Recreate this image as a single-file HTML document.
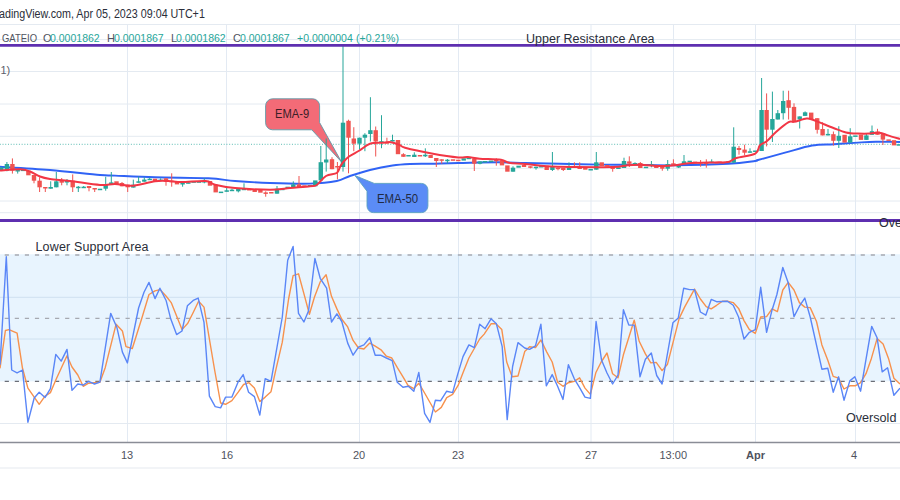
<!DOCTYPE html>
<html><head><meta charset="utf-8"><style>
html,body{margin:0;padding:0;background:#fff;width:900px;height:500px;overflow:hidden}
.t{position:absolute;white-space:nowrap;font-family:"Liberation Sans",sans-serif;line-height:1}
.v{top:32.9px;font-size:11px;color:#26a69a;transform:scaleX(0.955);transform-origin:0 0}
.x{top:450px;font-size:11px;color:#50535e}
</style></head><body>
<svg width="900" height="500" style="position:absolute;left:0;top:0">
<line x1="127.5" y1="24" x2="127.5" y2="442" stroke="#e3eaf3" stroke-width="1"/><line x1="226.5" y1="24" x2="226.5" y2="442" stroke="#e3eaf3" stroke-width="1"/><line x1="359.5" y1="24" x2="359.5" y2="442" stroke="#e3eaf3" stroke-width="1"/><line x1="458.5" y1="24" x2="458.5" y2="442" stroke="#e3eaf3" stroke-width="1"/><line x1="591" y1="24" x2="591" y2="442" stroke="#e3eaf3" stroke-width="1"/><line x1="673.5" y1="24" x2="673.5" y2="442" stroke="#e3eaf3" stroke-width="1"/><line x1="755.5" y1="24" x2="755.5" y2="442" stroke="#e3eaf3" stroke-width="1"/><line x1="855.5" y1="24" x2="855.5" y2="442" stroke="#e3eaf3" stroke-width="1"/><line x1="0" y1="24.5" x2="900" y2="24.5" stroke="#e4eaf1" stroke-width="1"/><line x1="0" y1="39.6" x2="900" y2="39.6" stroke="#e4eaf1" stroke-width="1"/><line x1="0" y1="71.5" x2="900" y2="71.5" stroke="#e4eaf1" stroke-width="1"/><line x1="0" y1="104" x2="900" y2="104" stroke="#e4eaf1" stroke-width="1"/><line x1="0" y1="136.3" x2="900" y2="136.3" stroke="#e4eaf1" stroke-width="1"/><line x1="0" y1="168.3" x2="900" y2="168.3" stroke="#e4eaf1" stroke-width="1"/><line x1="0" y1="201" x2="900" y2="201" stroke="#e4eaf1" stroke-width="1"/><line x1="0" y1="212.7" x2="900" y2="212.7" stroke="#e4eaf1" stroke-width="1"/><line x1="0" y1="297.3" x2="900" y2="297.3" stroke="#e4eaf1" stroke-width="1"/><line x1="0" y1="339" x2="900" y2="339" stroke="#e4eaf1" stroke-width="1"/><line x1="0" y1="423.5" x2="900" y2="423.5" stroke="#e4eaf1" stroke-width="1"/>
<rect x="0" y="254.2" width="900" height="127.2" fill="#2196f3" fill-opacity="0.1"/>
<line x1="0" y1="442.5" x2="900" y2="442.5" stroke="#8a8d96" stroke-width="1.6"/>
<line x1="0" y1="468" x2="900" y2="468" stroke="#eef1f5" stroke-width="1.5"/>
<line x1="0" y1="144.3" x2="900" y2="144.3" stroke="#26a69a" stroke-opacity="0.75" stroke-width="1" stroke-dasharray="1 1.7305" stroke-dashoffset="0.2"/>
<path d="M0,166.8 C8.3,167.3 33.3,168.6 50,170 C66.7,171.4 89.2,174.1 100,175 C110.8,175.9 105.8,175.2 115,175.6 C124.2,176.0 139.4,176.9 155,177.3 C170.6,177.8 195.0,177.7 208.3,178.3 C221.6,178.9 224.7,180.2 235,181 C245.3,181.8 257.5,182.6 270,183 C282.5,183.4 298.9,183.9 310,183.6 C321.1,183.3 330.0,182.3 336.7,181 C343.4,179.7 344.4,177.8 350,176 C355.6,174.2 362.9,171.8 370,170 C377.1,168.2 385.8,166.5 392.5,165.5 C399.2,164.5 403.5,164.3 410,164 C416.5,163.7 423.6,163.9 431.7,163.7 C439.8,163.5 447.2,163.2 458.3,163 C469.4,162.8 487.2,162.3 498.3,162.3 C509.4,162.3 514.7,162.8 525,163 C535.3,163.2 547.5,163.4 560,163.7 C572.5,164.0 587.5,164.4 600,164.6 C612.5,164.8 622.5,164.6 635,164.7 C647.5,164.8 659.5,165.5 675,165.3 C690.5,165.1 715.0,164.4 728.3,163.7 C741.6,163.0 750.0,161.6 755,161 C760.0,160.4 753.0,161.4 758,160 C763.0,158.6 776.0,155.1 785,152.7 C794.0,150.3 803.8,146.9 812,145.5 C820.2,144.1 826.3,144.7 834,144.2 C841.7,143.7 851.0,143.0 858,142.6 C865.0,142.2 869.0,141.9 876,141.8 C883.0,141.7 896.0,142.0 900,142" fill="none" stroke="#3063f5" stroke-width="1.9" stroke-linejoin="round"/>
<path d="M272.4,98.8 H312.8 A7,7 0 0 1 319.6,105.8 V122.6 L341.4,161.8 L311.8,129.8 H272.4 A7,7 0 0 1 265.6,122.8 V105.8 A7,7 0 0 1 272.4,98.8 Z" fill="#f36b77" stroke="#5f9aa8" stroke-width="0.9"/>
<path d="M355,175.6 L374.2,183.4 H421.4 A6.5,6.5 0 0 1 427.9,189.9 V206.1 A6.5,6.5 0 0 1 421.4,212.6 H373.5 A6.5,6.5 0 0 1 367,206.1 V191.2 Z" fill="#5b8cf6" stroke="#5aa0c0" stroke-width="0.9"/>
<rect x="-0.9" y="167.3" width="4.4" height="2.7" fill="#26a69a"/>
<rect x="6.4" y="162.0" width="1" height="9.3" fill="#26a69a"/>
<rect x="4.7" y="164.0" width="4.4" height="6.7" fill="#26a69a"/>
<rect x="11.9" y="158.4" width="1" height="15.2" fill="#ef5350"/>
<rect x="10.2" y="164.0" width="4.4" height="6.7" fill="#ef5350"/>
<rect x="17.2" y="170.0" width="1" height="3.6" fill="#26a69a"/>
<rect x="15.5" y="170.0" width="4.4" height="1.5" fill="#26a69a"/>
<rect x="20.8" y="169.6" width="4.4" height="1.5" fill="#26a69a"/>
<rect x="26.2" y="170.7" width="4.4" height="4.6" fill="#ef5350"/>
<rect x="33.5" y="175.0" width="1" height="8.3" fill="#ef5350"/>
<rect x="31.8" y="175.0" width="4.4" height="5.7" fill="#ef5350"/>
<rect x="39.1" y="177.3" width="1" height="14.7" fill="#ef5350"/>
<rect x="37.4" y="180.7" width="4.4" height="6.6" fill="#ef5350"/>
<rect x="44.8" y="187.0" width="1" height="5.0" fill="#ef5350"/>
<rect x="43.1" y="187.0" width="4.4" height="1.5" fill="#ef5350"/>
<rect x="50.2" y="181.3" width="1" height="7.4" fill="#26a69a"/>
<rect x="48.5" y="187.0" width="4.4" height="1.7" fill="#26a69a"/>
<rect x="55.8" y="172.0" width="1" height="15.3" fill="#26a69a"/>
<rect x="54.1" y="181.3" width="4.4" height="6.0" fill="#26a69a"/>
<rect x="61.2" y="178.0" width="1" height="7.3" fill="#ef5350"/>
<rect x="59.5" y="180.0" width="4.4" height="2.7" fill="#ef5350"/>
<rect x="66.5" y="179.0" width="1" height="6.3" fill="#26a69a"/>
<rect x="64.8" y="181.0" width="4.4" height="1.5" fill="#26a69a"/>
<rect x="72.2" y="174.4" width="1" height="17.6" fill="#ef5350"/>
<rect x="70.5" y="180.7" width="4.4" height="6.6" fill="#ef5350"/>
<rect x="77.8" y="186.0" width="1" height="6.0" fill="#26a69a"/>
<rect x="76.1" y="186.7" width="4.4" height="1.5" fill="#26a69a"/>
<rect x="83.2" y="186.0" width="1" height="1.3" fill="#26a69a"/>
<rect x="81.5" y="186.7" width="4.4" height="1.5" fill="#26a69a"/>
<rect x="88.5" y="186.0" width="1" height="5.3" fill="#ef5350"/>
<rect x="86.8" y="186.0" width="4.4" height="2.0" fill="#ef5350"/>
<rect x="94.2" y="188.0" width="1" height="4.0" fill="#ef5350"/>
<rect x="92.5" y="188.0" width="4.4" height="1.5" fill="#ef5350"/>
<rect x="97.8" y="188.7" width="4.4" height="1.5" fill="#26a69a"/>
<rect x="105.2" y="176.7" width="1" height="14.0" fill="#26a69a"/>
<rect x="103.5" y="184.0" width="4.4" height="4.7" fill="#26a69a"/>
<rect x="110.8" y="172.0" width="1" height="12.0" fill="#26a69a"/>
<rect x="109.1" y="182.4" width="4.4" height="1.6" fill="#26a69a"/>
<rect x="114.3" y="181.3" width="4.4" height="3.2" fill="#ef5350"/>
<rect x="121.5" y="182.0" width="1" height="4.3" fill="#ef5350"/>
<rect x="119.8" y="183.0" width="4.4" height="3.3" fill="#ef5350"/>
<rect x="127.2" y="184.7" width="1" height="7.3" fill="#ef5350"/>
<rect x="125.5" y="184.7" width="4.4" height="2.6" fill="#ef5350"/>
<rect x="132.8" y="179.6" width="1" height="8.0" fill="#26a69a"/>
<rect x="131.1" y="184.7" width="4.4" height="2.9" fill="#26a69a"/>
<rect x="138.1" y="176.7" width="1" height="6.0" fill="#26a69a"/>
<rect x="136.4" y="181.3" width="4.4" height="1.5" fill="#26a69a"/>
<rect x="143.8" y="177.3" width="1" height="4.4" fill="#26a69a"/>
<rect x="142.1" y="179.6" width="4.4" height="2.1" fill="#26a69a"/>
<rect x="149.2" y="177.7" width="1" height="1.9" fill="#26a69a"/>
<rect x="147.5" y="178.7" width="4.4" height="1.5" fill="#26a69a"/>
<rect x="152.8" y="178.7" width="4.4" height="2.6" fill="#ef5350"/>
<rect x="160.1" y="178.3" width="1" height="2.4" fill="#26a69a"/>
<rect x="158.4" y="179.6" width="4.4" height="1.5" fill="#26a69a"/>
<rect x="165.5" y="178.3" width="1" height="7.4" fill="#ef5350"/>
<rect x="163.8" y="178.3" width="4.4" height="3.0" fill="#ef5350"/>
<rect x="171.2" y="173.3" width="1" height="13.4" fill="#ef5350"/>
<rect x="169.5" y="180.7" width="4.4" height="1.5" fill="#ef5350"/>
<rect x="174.8" y="181.3" width="4.4" height="3.1" fill="#ef5350"/>
<rect x="182.1" y="183.0" width="1" height="3.7" fill="#26a69a"/>
<rect x="180.4" y="183.0" width="4.4" height="1.5" fill="#26a69a"/>
<rect x="187.8" y="181.0" width="1" height="2.3" fill="#26a69a"/>
<rect x="186.1" y="182.3" width="4.4" height="1.5" fill="#26a69a"/>
<rect x="191.5" y="181.3" width="4.4" height="1.5" fill="#26a69a"/>
<rect x="196.8" y="181.3" width="4.4" height="1.5" fill="#26a69a"/>
<rect x="203.8" y="178.3" width="1" height="5.0" fill="#26a69a"/>
<rect x="202.1" y="181.0" width="4.4" height="1.5" fill="#26a69a"/>
<rect x="207.8" y="181.0" width="4.4" height="4.7" fill="#ef5350"/>
<rect x="213.5" y="184.7" width="4.4" height="7.7" fill="#ef5350"/>
<rect x="218.8" y="191.6" width="4.4" height="1.5" fill="#26a69a"/>
<rect x="226.2" y="188.0" width="1" height="3.6" fill="#26a69a"/>
<rect x="224.5" y="190.3" width="4.4" height="1.5" fill="#26a69a"/>
<rect x="231.5" y="188.7" width="1" height="2.0" fill="#26a69a"/>
<rect x="229.8" y="189.7" width="4.4" height="1.5" fill="#26a69a"/>
<rect x="237.8" y="189.0" width="1" height="3.4" fill="#26a69a"/>
<rect x="236.1" y="189.0" width="4.4" height="2.3" fill="#26a69a"/>
<rect x="243.5" y="183.3" width="1" height="6.7" fill="#26a69a"/>
<rect x="241.8" y="188.7" width="4.4" height="1.5" fill="#26a69a"/>
<rect x="247.1" y="189.0" width="4.4" height="1.5" fill="#ef5350"/>
<rect x="252.5" y="190.0" width="4.4" height="2.0" fill="#ef5350"/>
<rect x="258.2" y="190.0" width="4.4" height="2.7" fill="#ef5350"/>
<rect x="265.2" y="191.3" width="1" height="5.4" fill="#ef5350"/>
<rect x="263.5" y="192.4" width="4.4" height="1.5" fill="#ef5350"/>
<rect x="269.1" y="192.0" width="4.4" height="1.5" fill="#ef5350"/>
<rect x="276.5" y="186.0" width="1" height="7.7" fill="#26a69a"/>
<rect x="274.8" y="188.7" width="4.4" height="5.0" fill="#26a69a"/>
<rect x="281.8" y="188.0" width="1" height="1.2" fill="#26a69a"/>
<rect x="280.1" y="188.7" width="4.4" height="1.5" fill="#26a69a"/>
<rect x="285.5" y="186.7" width="4.4" height="1.5" fill="#26a69a"/>
<rect x="292.8" y="181.3" width="1" height="5.7" fill="#26a69a"/>
<rect x="291.1" y="184.4" width="4.4" height="2.6" fill="#26a69a"/>
<rect x="298.5" y="176.0" width="1" height="11.0" fill="#ef5350"/>
<rect x="296.8" y="184.4" width="4.4" height="2.6" fill="#ef5350"/>
<rect x="302.2" y="185.3" width="4.4" height="1.5" fill="#ef5350"/>
<rect x="307.8" y="185.0" width="4.4" height="1.5" fill="#26a69a"/>
<rect x="313.1" y="180.4" width="4.4" height="5.9" fill="#26a69a"/>
<rect x="320.3" y="146.0" width="1" height="34.4" fill="#26a69a"/>
<rect x="318.6" y="162.2" width="4.4" height="18.2" fill="#26a69a"/>
<rect x="325.7" y="138.5" width="1" height="33.1" fill="#26a69a"/>
<rect x="324.0" y="159.5" width="4.4" height="3.0" fill="#26a69a"/>
<rect x="331.5" y="157.2" width="1" height="12.0" fill="#ef5350"/>
<rect x="329.8" y="159.2" width="4.4" height="10.0" fill="#ef5350"/>
<rect x="336.9" y="162.0" width="1" height="17.3" fill="#ef5350"/>
<rect x="335.2" y="166.0" width="4.4" height="1.5" fill="#ef5350"/>
<rect x="342.5" y="45.0" width="1" height="126.6" fill="#26a69a"/>
<rect x="340.8" y="122.7" width="4.4" height="44.3" fill="#26a69a"/>
<rect x="348.0" y="119.7" width="1" height="53.6" fill="#ef5350"/>
<rect x="346.3" y="120.8" width="4.4" height="16.9" fill="#ef5350"/>
<rect x="353.3" y="127.2" width="1" height="24.0" fill="#ef5350"/>
<rect x="351.6" y="138.5" width="4.4" height="5.2" fill="#ef5350"/>
<rect x="359.0" y="137.7" width="1" height="12.0" fill="#26a69a"/>
<rect x="357.3" y="137.7" width="4.4" height="6.0" fill="#26a69a"/>
<rect x="364.4" y="133.2" width="1" height="18.0" fill="#26a69a"/>
<rect x="362.7" y="134.7" width="4.4" height="3.0" fill="#26a69a"/>
<rect x="369.9" y="97.2" width="1" height="44.3" fill="#26a69a"/>
<rect x="368.2" y="130.2" width="4.4" height="3.8" fill="#26a69a"/>
<rect x="375.2" y="126.5" width="1" height="30.0" fill="#ef5350"/>
<rect x="373.5" y="130.2" width="4.4" height="11.3" fill="#ef5350"/>
<rect x="381.0" y="115.2" width="1" height="33.0" fill="#26a69a"/>
<rect x="379.3" y="141.2" width="4.4" height="1.5" fill="#26a69a"/>
<rect x="386.4" y="137.7" width="1" height="5.3" fill="#ef5350"/>
<rect x="384.7" y="142.2" width="4.4" height="1.5" fill="#ef5350"/>
<rect x="392.0" y="134.7" width="1" height="6.8" fill="#26a69a"/>
<rect x="390.3" y="140.0" width="4.4" height="1.5" fill="#26a69a"/>
<rect x="395.8" y="140.0" width="4.4" height="14.2" fill="#ef5350"/>
<rect x="402.9" y="153.2" width="1" height="3.6" fill="#ef5350"/>
<rect x="401.2" y="154.2" width="4.4" height="2.6" fill="#ef5350"/>
<rect x="406.3" y="155.0" width="4.4" height="1.5" fill="#26a69a"/>
<rect x="413.8" y="152.3" width="1" height="4.7" fill="#26a69a"/>
<rect x="412.1" y="154.7" width="4.4" height="2.3" fill="#26a69a"/>
<rect x="417.8" y="155.0" width="4.4" height="1.5" fill="#ef5350"/>
<rect x="424.8" y="148.3" width="1" height="8.7" fill="#26a69a"/>
<rect x="423.1" y="154.7" width="4.4" height="1.6" fill="#26a69a"/>
<rect x="428.4" y="155.0" width="4.4" height="3.0" fill="#ef5350"/>
<rect x="435.8" y="158.0" width="1" height="9.0" fill="#ef5350"/>
<rect x="434.1" y="158.0" width="4.4" height="3.0" fill="#ef5350"/>
<rect x="441.2" y="159.3" width="1" height="4.4" fill="#ef5350"/>
<rect x="439.5" y="159.3" width="4.4" height="1.5" fill="#ef5350"/>
<rect x="446.9" y="159.0" width="1" height="4.3" fill="#26a69a"/>
<rect x="445.2" y="159.7" width="4.4" height="1.5" fill="#26a69a"/>
<rect x="450.8" y="159.3" width="4.4" height="1.5" fill="#ef5350"/>
<rect x="456.1" y="159.7" width="4.4" height="1.5" fill="#ef5350"/>
<rect x="461.5" y="158.3" width="4.4" height="2.3" fill="#26a69a"/>
<rect x="466.5" y="157.7" width="4.4" height="1.5" fill="#26a69a"/>
<rect x="473.8" y="158.7" width="1" height="12.3" fill="#ef5350"/>
<rect x="472.1" y="158.7" width="4.4" height="5.0" fill="#ef5350"/>
<rect x="479.5" y="161.4" width="1" height="2.9" fill="#26a69a"/>
<rect x="477.8" y="161.4" width="4.4" height="2.3" fill="#26a69a"/>
<rect x="482.8" y="161.0" width="4.4" height="1.5" fill="#26a69a"/>
<rect x="488.8" y="160.6" width="4.4" height="1.5" fill="#26a69a"/>
<rect x="495.8" y="158.3" width="1" height="7.4" fill="#ef5350"/>
<rect x="494.1" y="159.7" width="4.4" height="1.5" fill="#ef5350"/>
<rect x="499.8" y="160.3" width="4.4" height="5.1" fill="#ef5350"/>
<rect x="505.2" y="165.4" width="4.4" height="6.3" fill="#ef5350"/>
<rect x="512.5" y="166.3" width="1" height="5.4" fill="#26a69a"/>
<rect x="510.8" y="167.7" width="4.4" height="4.0" fill="#26a69a"/>
<rect x="516.4" y="165.7" width="4.4" height="2.0" fill="#26a69a"/>
<rect x="521.8" y="165.0" width="4.4" height="2.0" fill="#ef5350"/>
<rect x="529.9" y="166.3" width="1" height="2.0" fill="#ef5350"/>
<rect x="528.2" y="166.3" width="4.4" height="1.5" fill="#ef5350"/>
<rect x="535.5" y="166.7" width="1" height="3.0" fill="#26a69a"/>
<rect x="533.8" y="166.7" width="4.4" height="1.5" fill="#26a69a"/>
<rect x="539.1" y="166.0" width="4.4" height="1.5" fill="#26a69a"/>
<rect x="544.5" y="165.7" width="4.4" height="4.3" fill="#ef5350"/>
<rect x="551.9" y="152.0" width="1" height="19.0" fill="#26a69a"/>
<rect x="550.2" y="167.0" width="4.4" height="3.0" fill="#26a69a"/>
<rect x="557.5" y="167.7" width="1" height="2.6" fill="#ef5350"/>
<rect x="555.8" y="167.7" width="4.4" height="1.5" fill="#ef5350"/>
<rect x="562.8" y="168.0" width="1" height="3.0" fill="#ef5350"/>
<rect x="561.1" y="168.0" width="4.4" height="2.0" fill="#ef5350"/>
<rect x="568.5" y="162.3" width="1" height="7.7" fill="#26a69a"/>
<rect x="566.8" y="167.0" width="4.4" height="3.0" fill="#26a69a"/>
<rect x="573.9" y="162.3" width="1" height="5.0" fill="#ef5350"/>
<rect x="572.2" y="166.3" width="4.4" height="1.5" fill="#ef5350"/>
<rect x="579.2" y="162.3" width="1" height="6.7" fill="#ef5350"/>
<rect x="577.5" y="166.7" width="4.4" height="2.3" fill="#ef5350"/>
<rect x="583.1" y="167.7" width="4.4" height="2.0" fill="#ef5350"/>
<rect x="588.5" y="169.0" width="4.4" height="1.5" fill="#26a69a"/>
<rect x="595.8" y="152.0" width="1" height="17.7" fill="#26a69a"/>
<rect x="594.1" y="162.3" width="4.4" height="7.4" fill="#26a69a"/>
<rect x="599.5" y="162.3" width="4.4" height="3.7" fill="#ef5350"/>
<rect x="605.1" y="165.0" width="4.4" height="1.5" fill="#ef5350"/>
<rect x="612.2" y="166.3" width="1" height="5.4" fill="#ef5350"/>
<rect x="610.5" y="166.3" width="4.4" height="2.7" fill="#ef5350"/>
<rect x="616.2" y="167.3" width="4.4" height="1.7" fill="#26a69a"/>
<rect x="623.5" y="157.7" width="1" height="10.3" fill="#26a69a"/>
<rect x="621.8" y="161.0" width="4.4" height="7.0" fill="#26a69a"/>
<rect x="628.8" y="156.3" width="1" height="10.7" fill="#ef5350"/>
<rect x="627.1" y="161.4" width="4.4" height="2.3" fill="#ef5350"/>
<rect x="634.5" y="162.3" width="1" height="1.7" fill="#26a69a"/>
<rect x="632.8" y="163.0" width="4.4" height="1.5" fill="#26a69a"/>
<rect x="639.8" y="162.0" width="1" height="6.0" fill="#ef5350"/>
<rect x="638.1" y="163.0" width="4.4" height="5.0" fill="#ef5350"/>
<rect x="643.8" y="166.7" width="4.4" height="1.5" fill="#26a69a"/>
<rect x="650.9" y="161.0" width="1" height="6.3" fill="#26a69a"/>
<rect x="649.2" y="164.3" width="4.4" height="1.5" fill="#26a69a"/>
<rect x="654.1" y="165.3" width="4.4" height="2.7" fill="#ef5350"/>
<rect x="661.8" y="166.7" width="1" height="4.0" fill="#ef5350"/>
<rect x="660.1" y="166.7" width="4.4" height="2.0" fill="#ef5350"/>
<rect x="667.2" y="160.0" width="1" height="10.7" fill="#26a69a"/>
<rect x="665.5" y="164.0" width="4.4" height="4.7" fill="#26a69a"/>
<rect x="672.9" y="159.3" width="1" height="5.4" fill="#ef5350"/>
<rect x="671.2" y="163.3" width="4.4" height="1.5" fill="#ef5350"/>
<rect x="678.2" y="166.0" width="1" height="2.0" fill="#26a69a"/>
<rect x="676.5" y="166.0" width="4.4" height="1.5" fill="#26a69a"/>
<rect x="683.5" y="155.0" width="1" height="9.0" fill="#26a69a"/>
<rect x="681.8" y="161.3" width="4.4" height="2.7" fill="#26a69a"/>
<rect x="687.5" y="160.7" width="4.4" height="1.5" fill="#26a69a"/>
<rect x="692.8" y="161.6" width="4.4" height="1.5" fill="#ef5350"/>
<rect x="700.1" y="160.0" width="1" height="6.7" fill="#ef5350"/>
<rect x="698.4" y="162.0" width="4.4" height="1.5" fill="#ef5350"/>
<rect x="705.8" y="159.3" width="1" height="8.4" fill="#ef5350"/>
<rect x="704.1" y="162.4" width="4.4" height="1.5" fill="#ef5350"/>
<rect x="711.2" y="159.3" width="1" height="3.0" fill="#26a69a"/>
<rect x="709.5" y="161.6" width="4.4" height="1.5" fill="#26a69a"/>
<rect x="714.8" y="162.0" width="4.4" height="1.5" fill="#ef5350"/>
<rect x="720.1" y="162.0" width="4.4" height="1.5" fill="#ef5350"/>
<rect x="726.1" y="161.5" width="4.4" height="1.5" fill="#26a69a"/>
<rect x="733.2" y="127.3" width="1" height="35.4" fill="#26a69a"/>
<rect x="731.5" y="146.7" width="4.4" height="16.0" fill="#26a69a"/>
<rect x="738.5" y="146.0" width="1" height="8.7" fill="#ef5350"/>
<rect x="736.8" y="148.0" width="4.4" height="2.0" fill="#ef5350"/>
<rect x="744.1" y="144.7" width="1" height="10.6" fill="#ef5350"/>
<rect x="742.4" y="149.6" width="4.4" height="3.1" fill="#ef5350"/>
<rect x="749.5" y="148.3" width="1" height="4.4" fill="#26a69a"/>
<rect x="747.8" y="151.3" width="4.4" height="1.5" fill="#26a69a"/>
<rect x="753.1" y="150.5" width="4.4" height="1.5" fill="#26a69a"/>
<rect x="761.1" y="78.0" width="1" height="73.0" fill="#26a69a"/>
<rect x="759.4" y="110.0" width="4.4" height="41.0" fill="#26a69a"/>
<rect x="766.1" y="93.4" width="1" height="53.0" fill="#ef5350"/>
<rect x="764.4" y="110.0" width="4.4" height="19.7" fill="#ef5350"/>
<rect x="771.9" y="91.6" width="1" height="50.4" fill="#26a69a"/>
<rect x="770.2" y="119.0" width="4.4" height="10.7" fill="#26a69a"/>
<rect x="777.3" y="110.0" width="1" height="9.5" fill="#26a69a"/>
<rect x="775.6" y="113.2" width="4.4" height="6.3" fill="#26a69a"/>
<rect x="782.7" y="90.7" width="1" height="28.8" fill="#26a69a"/>
<rect x="781.0" y="101.0" width="4.4" height="12.2" fill="#26a69a"/>
<rect x="788.1" y="90.7" width="1" height="28.8" fill="#ef5350"/>
<rect x="786.4" y="100.2" width="4.4" height="7.6" fill="#ef5350"/>
<rect x="793.5" y="103.3" width="1" height="18.0" fill="#ef5350"/>
<rect x="791.8" y="106.9" width="4.4" height="14.4" fill="#ef5350"/>
<rect x="799.2" y="116.4" width="1" height="12.1" fill="#26a69a"/>
<rect x="797.5" y="116.4" width="4.4" height="3.1" fill="#26a69a"/>
<rect x="804.6" y="111.4" width="1" height="4.5" fill="#26a69a"/>
<rect x="802.9" y="112.3" width="4.4" height="3.6" fill="#26a69a"/>
<rect x="809.0" y="112.6" width="4.4" height="6.6" fill="#ef5350"/>
<rect x="816.7" y="118.2" width="1" height="15.4" fill="#ef5350"/>
<rect x="815.0" y="118.2" width="4.4" height="11.6" fill="#ef5350"/>
<rect x="822.1" y="122.2" width="1" height="13.2" fill="#ef5350"/>
<rect x="820.4" y="129.0" width="4.4" height="6.4" fill="#ef5350"/>
<rect x="827.5" y="129.0" width="1" height="6.4" fill="#26a69a"/>
<rect x="825.8" y="133.9" width="4.4" height="1.5" fill="#26a69a"/>
<rect x="832.9" y="131.5" width="1" height="14.1" fill="#ef5350"/>
<rect x="831.2" y="134.2" width="4.4" height="6.6" fill="#ef5350"/>
<rect x="838.3" y="126.2" width="1" height="21.8" fill="#26a69a"/>
<rect x="836.6" y="135.8" width="4.4" height="5.0" fill="#26a69a"/>
<rect x="842.4" y="134.8" width="4.4" height="7.8" fill="#ef5350"/>
<rect x="849.7" y="128.2" width="1" height="14.4" fill="#26a69a"/>
<rect x="848.0" y="136.3" width="4.4" height="6.3" fill="#26a69a"/>
<rect x="853.2" y="135.4" width="4.4" height="1.5" fill="#26a69a"/>
<rect x="858.8" y="134.6" width="4.4" height="5.3" fill="#ef5350"/>
<rect x="865.9" y="133.0" width="1" height="6.9" fill="#26a69a"/>
<rect x="864.2" y="135.4" width="4.4" height="4.5" fill="#26a69a"/>
<rect x="871.5" y="125.5" width="1" height="9.3" fill="#26a69a"/>
<rect x="869.8" y="131.2" width="4.4" height="3.6" fill="#26a69a"/>
<rect x="877.0" y="128.8" width="1" height="6.0" fill="#ef5350"/>
<rect x="875.3" y="131.5" width="4.4" height="3.3" fill="#ef5350"/>
<rect x="882.4" y="133.4" width="1" height="11.6" fill="#ef5350"/>
<rect x="880.7" y="133.4" width="4.4" height="6.2" fill="#ef5350"/>
<rect x="886.4" y="139.4" width="4.4" height="1.5" fill="#ef5350"/>
<rect x="891.8" y="140.2" width="4.4" height="5.2" fill="#ef5350"/>
<rect x="896.6" y="144.2" width="4.4" height="1.5" fill="#26a69a"/>
<path d="M0,170.5 C3.3,170.3 15.0,169.1 20,169.3 C25.0,169.5 26.7,170.3 30,171.5 C33.3,172.7 36.7,175.2 40,176.5 C43.3,177.8 45.0,178.2 50,179 C55.0,179.8 61.7,180.0 70,181 C78.3,182.0 92.5,184.5 100,185 C107.5,185.5 109.6,183.9 115,184 C120.4,184.1 125.6,186.1 132.3,185.7 C139.0,185.2 149.0,182.1 155,181.3 C161.0,180.5 163.9,180.9 168.3,181 C172.8,181.1 175.5,182.0 181.7,182 C187.9,182.0 200.1,180.6 205.7,181 C211.2,181.4 210.1,183.5 215,184.7 C219.9,185.9 225.8,187.2 235,188 C244.2,188.8 260.8,189.7 270,189.7 C279.2,189.7 283.3,188.6 290,188 C296.7,187.4 305.6,186.8 310,186.3 C314.4,185.8 314.0,186.7 316.7,185 C319.4,183.3 322.7,178.0 326,176 C329.3,174.0 334.4,174.5 336.7,173 C339.0,171.5 338.9,168.8 340,167 C341.1,165.2 341.8,163.8 343.3,162 C344.8,160.2 346.3,158.4 349,156.5 C351.7,154.6 356.0,152.6 359.5,150.5 C363.0,148.4 366.2,145.0 370,143.7 C373.8,142.4 378.5,142.9 382,142.7 C385.5,142.4 388.0,141.8 391,142.2 C394.0,142.6 397.7,144.3 400,145.2 C402.3,146.1 399.7,146.3 405,147.7 C410.3,149.1 422.8,151.8 431.7,153.4 C440.6,155.0 452.3,156.8 458.3,157.4 C464.3,158.0 464.1,156.8 467.7,157 C471.3,157.2 474.1,158.2 479.7,158.7 C485.2,159.1 496.1,159.0 501,159.7 C505.9,160.4 505.0,162.0 509,162.7 C513.0,163.4 518.7,163.4 525,164 C531.3,164.6 538.7,165.8 546.7,166.3 C554.8,166.8 562.2,166.9 573.3,167 C584.4,167.1 604.4,167.3 613.3,167 C622.2,166.7 622.2,165.8 626.7,165.4 C631.2,165.0 634.2,164.7 640,164.8 C645.8,164.9 655.9,165.9 661.7,166 C667.5,166.1 670.6,165.8 675,165.3 C679.4,164.9 681.6,163.8 688.3,163.3 C695.0,162.8 708.3,162.6 715,162.4 C721.7,162.2 724.8,162.7 728.3,162 C731.8,161.3 731.8,159.4 736.3,158 C740.8,156.6 751.4,155.7 755.3,153.6 C759.2,151.5 757.8,147.6 759.8,145.5 C761.8,143.4 764.3,143.2 767,141 C769.7,138.8 772.4,135.1 776,132 C779.6,128.9 785.6,123.9 788.6,122.2 C791.6,120.5 791.0,122.4 794,121.8 C797.0,121.2 803.5,119.0 806.5,118.6 C809.5,118.2 809.4,118.7 812,119.5 C814.6,120.3 818.3,122.0 822,123.4 C825.7,124.9 830.0,126.7 834,128.2 C838.0,129.7 842.0,131.5 846,132.4 C850.0,133.3 854.0,133.4 858,133.6 C862.0,133.8 866.4,133.8 870,133.6 C873.6,133.4 876.6,132.4 879.6,132.7 C882.6,133.0 884.6,134.3 888,135.4 C891.4,136.5 898.0,138.4 900,139" fill="none" stroke="#f23645" stroke-width="2" stroke-linejoin="round"/>
<line x1="0" y1="45.4" x2="900" y2="45.4" stroke="#5e2fb0" stroke-width="2.6"/>
<line x1="0" y1="220.5" x2="900" y2="220.5" stroke="#5e2fb0" stroke-width="2.8"/>
<line x1="0" y1="255" x2="900" y2="255" stroke="#a6a9b1" stroke-width="1.3" stroke-dasharray="4.2 5.87" stroke-dashoffset="-4.7"/>
<line x1="0" y1="318.3" x2="900" y2="318.3" stroke="#a6a9b1" stroke-width="1.3" stroke-dasharray="4.2 5.87" stroke-dashoffset="-4.7"/>
<line x1="0" y1="381.4" x2="900" y2="381.4" stroke="#6b6e77" stroke-width="1.3" stroke-dasharray="4.2 5.87" stroke-dashoffset="-4.7"/>
<polyline points="0,368.3 5.4,330.5 9,329.6 17.1,333.2 22.5,368.3 27.9,388.1 34.2,397.1 39.2,404.3 45,396.2 50.4,392.6 55.8,380 61.2,368.3 67,355.7 72,367 77.8,375 83.2,386.3 88.6,383.2 94.5,382.7 99.9,382.2 105.3,367.4 116.1,324.2 122.4,331 126,346.7 132.3,348.5 142.2,317 149,294.5 155,290.9 159.9,289.6 166.2,296.3 171.2,302.6 177,317 182,329.6 187.8,323.3 193.2,312.5 198.6,301.2 204,307.1 214.8,371 220.6,403 225.6,404.3 231.9,400.7 238.2,392.2 243.6,384.5 249,382.7 254.4,388.1 259.8,401.6 265.2,397.1 271,391.7 276,369.2 282.3,342.2 288.6,299 293.1,275.6 298.5,273.8 303.9,293.6 309.4,314.3 314.4,297.2 320.2,281.9 326.1,274.7 331.5,296.3 336.9,308.9 341.8,319.2 347.7,326.9 353.1,340.4 358.5,348 363.9,349 369.8,343.1 375.2,346.2 381,349.8 386.4,356.2 391.8,358 397.2,367.4 403,376.8 408,385.4 413.8,388.6 418.8,383.2 424.6,393 430,402.5 435.4,412 441.3,407.4 446.7,397.6 452.6,394.4 458.1,385.4 463,372.8 468.9,358 474.3,348.5 479.7,339 484.2,334.1 491,323.8 495.9,323.8 501.8,329.6 506.7,362 512.1,376.8 518,376 524.7,351.6 529.6,346.7 535.5,347.6 540.9,340 546.8,352.1 552.2,362 557.6,382.2 563,386.3 568.4,382.7 574.2,381.4 579.6,377.8 585,388.1 590.4,394.4 595.8,372.8 601.2,362 607,353 612.6,373.7 618,377.8 623.4,354.8 634.2,320.2 639.2,341.3 645.4,353.9 650.8,362.9 656.2,362.4 662.1,370.6 667.5,364.2 679.2,318.4 684.6,307.1 694.5,289.1 700.4,299 706.2,306.6 711.2,308.9 716.6,305.3 722.4,301.2 727.4,301.2 733.2,302.6 738.6,308.4 744,320.6 749.4,329.6 755.3,333.4 760.7,317 766.6,316.6 772,308.9 777.4,311.6 782.8,290 788.2,282.4 794,290 799.4,302.6 804.8,307.1 810.2,307.6 816.5,321.5 821.9,344.9 827.8,360.2 833.2,376.4 838.6,378.2 844,389 849.8,385.8 855.2,385.8 860.6,382.7 866,373.7 871.4,358.4 877.1,338.6 883.1,344 888.5,358.4 893.9,378.2 900,384" fill="none" stroke="#f7914d" stroke-width="1.4" stroke-linejoin="round"/>
<polyline points="0,364.7 6.3,256.7 9.9,335 11.7,370 17.1,372.8 22.5,370 27.9,422.3 34.2,398 39.2,392.2 45,397.6 50.4,388.6 55.8,354.4 61.2,361.1 67,349.4 72,390.4 77.8,384 83.2,385 88.6,381.4 94.5,384 99.9,382.2 110.7,313.4 117,327.8 122.4,352.1 127.4,362.9 138.6,308 144,292.2 149,282.4 155,298.6 159.9,288.2 166.2,300.8 170.7,318.8 176.6,334.6 182,331 187.4,305.8 193.2,300.4 198.2,298.1 204,322.4 209.4,396.2 215.2,406.6 220.6,407.9 225.6,397.1 231.9,397.1 238.2,381.8 243.2,374.6 248.6,392.2 254.4,396.6 259.8,415.1 265.2,378.6 271,381.4 282.3,317 287.7,260.3 293.1,246.4 298.5,313.4 303.9,322 308.6,310.7 314.9,258.5 320.2,278.3 326.6,288.2 331.5,322 336.9,313.8 341.8,321.5 347.7,343.1 353.1,355.2 358.5,347.2 363.9,344.9 369.8,337.7 375.2,355.2 380.6,355.2 386.4,358 392.2,360.6 397.2,382.2 403,387.2 408.4,386.3 413.8,391.2 418.8,372.4 424.6,413.3 430,422.3 435.4,400.2 440.7,400.7 446.7,391.2 452.6,392.6 457.6,374.6 463,356.6 468.9,344.9 474.3,347.6 479.7,324.2 485.1,328.7 491,318.8 496.4,323.8 502.2,346.7 507.2,419.6 512.6,366.5 518,342.6 524.7,348 529.6,349.4 535.5,345.8 540.9,324.2 546.3,385.8 552.2,374.6 557.6,386.3 563,399.4 568.4,364.7 574.2,378.6 579.6,387.6 585,397.1 590.4,398.4 596.1,321.5 601.5,360 607,373 612.6,384 618,375 623.4,309.8 628.8,325.1 634.2,325.1 640,376.8 645.4,359.3 651.3,353 656.7,375.5 662.1,384 672.9,322.8 678.3,317.9 683.7,288.2 689.6,289.6 694.5,289.6 700.4,312 705.8,315.2 711.2,299.4 716.6,301.7 727.4,301.2 733.2,305.3 738.6,317 744,339 749.4,332.3 755.3,329.6 760.7,287.3 766.6,332.3 772,310.2 776.9,294.5 782.8,267.5 788.2,282.8 794,316.6 799.4,306.2 804.8,298.1 810.2,317 821.9,369.2 827.8,368.3 833.2,392.2 838.6,376.8 844,400.2 849.8,380.9 854.8,376.8 860.6,391.2 866,359.3 871.7,326.4 877.1,337.7 882.2,371.9 887.6,367.8 893.9,395.3 900,388.1" fill="none" stroke="#5a86f7" stroke-width="1.4" stroke-linejoin="round"/>
</svg>
<div class="t" style="left:-1px;top:7.6px;font-size:12px;color:#2a2e39;transform:scaleX(0.894);transform-origin:0 0">adingView.com, Apr 05, 2023 09:04 UTC+1</div>
<div class="t" style="left:2px;top:32.9px;font-size:11px;color:#50535e;transform:scaleX(0.86);transform-origin:0 0">GATEIO</div>
<div class="t" style="left:43px;top:32.9px;font-size:11px;color:#50535e">O</div>
<div class="t v" style="left:49.5px">0.0001862</div>
<div class="t" style="left:107px;top:32.9px;font-size:11px;color:#50535e">H</div>
<div class="t v" style="left:114px">0.0001867</div>
<div class="t" style="left:171px;top:32.9px;font-size:11px;color:#50535e">L</div>
<div class="t v" style="left:176px">0.0001862</div>
<div class="t" style="left:233px;top:32.9px;font-size:11px;color:#50535e">C</div>
<div class="t v" style="left:239.5px">0.0001867</div>
<div class="t v" style="left:296.5px">+0.0000004</div>
<div class="t v" style="left:356px">(+0.21%)</div>
<div class="t" style="left:526px;top:33px;font-size:12.5px;color:#2a2e39">Upper Resistance Area</div>
<div class="t" style="left:0.5px;top:65.3px;font-size:11px;color:#5d606b">1)</div>
<div class="t" style="left:275px;top:107.8px;font-size:12px;color:#3a2028;transform:scaleX(0.93);transform-origin:0 0">EMA-9</div>
<div class="t" style="left:377px;top:193px;font-size:12px;color:#1f2a44;transform:scaleX(0.95);transform-origin:0 0">EMA-50</div>
<div class="t" style="left:879px;top:216.5px;font-size:12.5px;color:#2a2e39">Overs</div>
<div class="t" style="left:35.5px;top:240.8px;font-size:12.5px;color:#2a2e39;letter-spacing:0.15px">Lower Support Area</div>
<div class="t" style="left:846px;top:412px;font-size:12.6px;color:#2a2e39">Oversold</div>
<div class="t x" style="left:121px">13</div>
<div class="t x" style="left:221px">16</div>
<div class="t x" style="left:353px">20</div>
<div class="t x" style="left:452px">23</div>
<div class="t x" style="left:585px">27</div>
<div class="t x" style="left:659.5px">13:00</div>
<div class="t x" style="left:746px;font-weight:bold">Apr</div>
<div class="t x" style="left:851px">4</div>
</body></html>
